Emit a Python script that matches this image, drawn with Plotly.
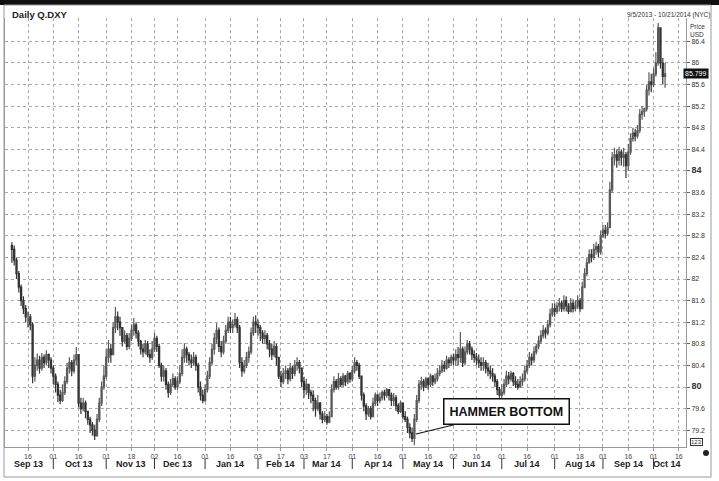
import pandas as pd
import plotly.graph_objects as go

# ---------------- data ----------------
start_date = "2013-09-05"
end_date = "2014-10-21"

close = [
    82.55, 82.35, 82.10, 81.85, 81.60, 81.45, 81.30, 81.30, 81.15, 80.20,
    80.40, 80.50, 80.35, 80.55, 80.45, 80.60, 80.50,
    80.35, 80.20, 80.05, 79.85, 79.75, 79.90,
    80.10, 80.35, 80.45, 80.30, 80.50, 80.60,
    79.70, 79.60, 79.70, 79.55, 79.40, 79.30, 79.20, 79.10,
    79.40, 79.70, 80.00, 80.20, 80.55, 80.70, 80.60,
    81.10, 81.30, 81.20, 81.10,
    80.85, 80.95, 80.75, 80.90, 81.05, 81.15, 81.00, 80.85,
    80.70, 80.65, 80.80, 80.60, 80.55, 80.70, 80.90, 80.75,
    80.40, 80.20, 80.30, 80.05, 79.90, 80.05, 80.15, 80.00, 80.10, 80.25,
    80.55, 80.70, 80.60, 80.50, 80.45, 80.55, 80.40,
    80.00, 79.85, 79.75, 79.95,
    80.20, 80.45, 80.70, 80.90, 81.05, 80.75, 80.65, 80.85,
    81.05, 81.20, 81.10, 81.15, 81.25, 81.10,
    80.45, 80.30, 80.40, 80.55, 80.65,
    81.00, 81.20, 81.15, 81.10, 81.00, 80.90, 80.95, 80.80,
    80.70, 80.60, 80.75, 80.55, 80.20, 80.10, 80.25,
    80.30, 80.15, 80.35, 80.25, 80.40, 80.45, 80.35,
    80.10, 79.95, 80.05, 79.90, 79.85, 79.75, 79.60, 79.70, 79.50, 79.40, 79.45, 79.35, 79.45,
    79.95, 80.10, 80.00, 80.15, 80.05, 80.20, 80.10, 80.25, 80.15, 80.30, 80.45, 80.40, 80.20,
    79.85, 79.65, 79.50, 79.60, 79.45, 79.70, 79.85, 79.75, 79.80,
    79.90, 79.85, 79.95, 79.85, 79.75, 79.80, 79.65, 79.55, 79.70, 79.45, 79.40,
    79.25, 79.15, 79.05, 79.40, 79.75, 80.05,
    80.10, 80.00, 80.15, 80.05, 80.20, 80.10, 80.15, 80.25, 80.30, 80.40, 80.35, 80.50, 80.45, 80.55, 80.50,
    80.60, 80.55, 80.70, 80.45, 80.65, 80.80, 80.70,
    80.60, 80.55, 80.50, 80.45, 80.40, 80.45, 80.35, 80.30, 80.25, 80.20, 80.10, 79.95, 79.85, 79.90,
    80.05, 80.20, 80.15, 80.25, 80.10, 80.05, 80.00, 80.10, 80.15,
    80.30, 80.40, 80.55, 80.50, 80.65, 80.75, 80.85, 80.95, 81.05, 81.00, 81.15, 81.35, 81.45, 81.40, 81.50,
    81.55, 81.45, 81.60, 81.50, 81.40, 81.55, 81.45, 81.50, 81.60, 81.45,
    81.85, 82.10, 82.30, 82.45, 82.40, 82.55, 82.60, 82.50, 82.80, 82.90, 82.85, 82.95, 83.65,
    84.25, 84.30, 84.20, 84.35, 84.25, 84.30, 84.10, 84.35, 84.60, 84.70, 84.65, 84.75,
    85.05, 85.10, 85.15, 85.50, 85.65, 85.60, 85.80, 86.00, 86.65, 86.00, 85.75, 85.80,
]

high = [
    82.68, 82.62, 82.40, 82.15, 81.90, 81.68, 81.52, 81.40, 81.35, 81.20,
    80.55, 80.62, 80.58, 80.63, 80.60, 80.68, 80.62,
    80.55, 80.40, 80.25, 80.10, 79.95, 80.05,
    80.20, 80.45, 80.55, 80.50, 80.60, 80.74,
    80.60, 79.80, 79.80, 79.75, 79.55, 79.45, 79.35, 79.30,
    79.50, 79.80, 80.10, 80.40, 80.70, 80.87, 80.80,
    81.20, 81.48, 81.40, 81.30,
    81.10, 81.05, 81.00, 81.00, 81.15, 81.28, 81.20, 81.05,
    80.87, 80.80, 80.87, 80.85, 80.70, 80.85, 81.00, 80.95,
    80.80, 80.45, 80.40, 80.35, 80.10, 80.15, 80.25, 80.20, 80.20, 80.40,
    80.70, 80.81, 80.75, 80.65, 80.60, 80.65, 80.60,
    80.45, 80.10, 79.95, 80.05,
    80.30, 80.55, 80.80, 81.00, 81.18, 81.10, 80.85, 80.95,
    81.15, 81.30, 81.30, 81.25, 81.37, 81.30,
    81.15, 80.55, 80.50, 80.65, 80.75,
    81.10, 81.30, 81.33, 81.25, 81.15, 81.05, 81.05, 81.00,
    80.87, 80.80, 80.85, 80.80, 80.55, 80.30, 80.35,
    80.40, 80.35, 80.45, 80.40, 80.50, 80.55, 80.50,
    80.35, 80.19, 80.15, 80.05, 79.95, 79.94, 79.80, 79.85, 79.72, 79.55, 79.55, 79.50, 79.55,
    80.05, 80.20, 80.15, 80.26, 80.20, 80.26, 80.22, 80.30, 80.28, 80.40, 80.55, 80.50, 80.45,
    80.20, 79.90, 79.70, 79.65, 79.65, 79.80, 79.90, 79.88, 79.90,
    79.94, 79.95, 79.98, 79.95, 79.90, 79.89, 79.85, 79.70, 79.75, 79.70, 79.55,
    79.45, 79.33, 79.25, 79.50, 79.85, 80.13,
    80.19, 80.15, 80.19, 80.18, 80.25, 80.22, 80.25, 80.35, 80.40, 80.50, 80.48, 80.58, 80.55, 80.60, 80.62,
    80.70, 80.74, 81.02, 80.75, 80.75, 80.87, 80.85,
    80.75, 80.68, 80.63, 80.60, 80.55, 80.55, 80.50, 80.45, 80.40, 80.35, 80.25, 80.15, 80.00, 80.05,
    80.15, 80.30, 80.28, 80.30, 80.28, 80.20, 80.15, 80.20, 80.25,
    80.40, 80.50, 80.65, 80.62, 80.75, 80.80, 80.95, 81.05, 81.15, 81.10, 81.24, 81.45, 81.55, 81.55, 81.57,
    81.65, 81.60, 81.70, 81.68, 81.55, 81.65, 81.62, 81.60, 81.70, 81.65,
    81.95, 82.20, 82.40, 82.55, 82.55, 82.65, 82.69, 82.65, 82.90, 83.00, 83.00, 83.05, 83.80,
    84.35, 84.43, 84.40, 84.45, 84.40, 84.43, 84.35, 84.50, 84.70, 84.80, 84.78, 84.85,
    85.15, 85.20, 85.17, 85.60, 85.83, 85.80, 85.90, 86.20, 86.74, 86.60, 86.09, 86.00,
]

low = [
    82.30, 82.25, 82.00, 81.75, 81.50, 81.35, 81.20, 81.10, 81.05, 80.07,
    80.10, 80.30, 80.25, 80.30, 80.35, 80.40, 80.35,
    80.25, 80.05, 79.90, 79.72, 79.68, 79.72,
    79.85, 80.05, 80.25, 80.20, 80.25, 80.40,
    79.62, 79.50, 79.55, 79.42, 79.30, 79.15, 79.10, 79.02,
    79.08, 79.35, 79.65, 79.95, 80.15, 80.45, 80.45,
    80.60, 81.00, 81.05, 80.95,
    80.75, 80.80, 80.68, 80.70, 80.85, 80.95, 80.90, 80.75,
    80.60, 80.55, 80.60, 80.55, 80.45, 80.50, 80.65, 80.65,
    80.35, 80.10, 80.10, 79.95, 79.80, 79.85, 80.00, 79.95, 79.95, 80.05,
    80.20, 80.45, 80.45, 80.40, 80.35, 80.40, 80.30,
    79.90, 79.75, 79.70, 79.72,
    79.90, 80.15, 80.40, 80.60, 80.80, 80.65, 80.55, 80.60,
    80.80, 81.00, 81.00, 81.00, 81.10, 81.00,
    80.35, 80.19, 80.25, 80.35, 80.45,
    80.60, 80.95, 81.00, 80.95, 80.85, 80.80, 80.80, 80.70,
    80.55, 80.50, 80.55, 80.40, 80.15, 80.00, 80.05,
    80.15, 80.05, 80.10, 80.15, 80.20, 80.30, 80.25,
    80.00, 79.80, 79.85, 79.78, 79.70, 79.55, 79.45, 79.55, 79.40, 79.33, 79.35, 79.30, 79.33,
    79.45, 79.90, 79.95, 79.95, 80.00, 80.00, 80.02, 80.05, 80.08, 80.10, 80.25, 80.30, 80.15,
    79.75, 79.55, 79.39, 79.45, 79.40, 79.45, 79.65, 79.65, 79.70,
    79.75, 79.75, 79.80, 79.75, 79.65, 79.65, 79.55, 79.50, 79.52, 79.40, 79.35,
    79.15, 79.05, 78.98, 78.92, 79.35, 79.70,
    79.95, 79.92, 79.98, 79.95, 80.00, 80.02, 80.05, 80.10, 80.20, 80.26, 80.28, 80.32, 80.35, 80.40, 80.40,
    80.40, 80.40, 80.45, 80.37, 80.40, 80.60, 80.60,
    80.50, 80.45, 80.40, 80.35, 80.30, 80.30, 80.25, 80.20, 80.15, 80.10, 80.00, 79.85, 79.80, 79.80,
    79.85, 80.00, 80.05, 80.10, 80.02, 79.98, 79.95, 79.98, 80.02,
    80.10, 80.25, 80.35, 80.40, 80.45, 80.60, 80.70, 80.80, 80.90, 80.90, 80.96, 81.10, 81.30, 81.30, 81.35,
    81.40, 81.39, 81.40, 81.40, 81.35, 81.38, 81.38, 81.40, 81.45, 81.39,
    81.45, 81.83, 82.05, 82.30, 82.31, 82.35, 82.45, 82.40, 82.45, 82.76, 82.75, 82.80, 82.95,
    83.60, 84.10, 84.06, 84.10, 84.10, 84.08, 83.87, 84.00, 84.30, 84.54, 84.55, 84.60,
    84.70, 84.95, 85.00, 85.10, 85.40, 85.46, 85.55, 85.75, 85.95, 85.90, 85.60, 85.54,
]

first_open = 82.62
last_price = "85.799"

tick_dates = ["2013-09-16", "2013-10-01", "2013-10-16", "2013-11-01", "2013-11-18",
              "2013-12-02", "2013-12-16", "2014-01-01", "2014-01-16", "2014-02-03",
              "2014-02-17", "2014-03-03", "2014-03-17", "2014-04-01", "2014-04-16",
              "2014-05-01", "2014-05-16", "2014-06-02", "2014-06-16", "2014-07-01",
              "2014-07-16", "2014-08-01", "2014-08-18", "2014-09-01", "2014-09-16",
              "2014-10-01", "2014-10-16"]
tick_text = ["16", "01", "16", "01", "18", "02", "16", "01", "16", "03", "17", "03", "17",
             "01", "16", "01", "16", "02", "16", "01", "16", "01", "18", "01", "16", "01", "16"]

month_labels = ["Sep 13", "Oct 13", "Nov 13", "Dec 13", "Jan 14", "Feb 14", "Mar 14",
                "Apr 14", "May 14", "Jun 14", "Jul 14", "Aug 14", "Sep 14", "Oct 14"]
month_label_dates = ["2013-09-16", "2013-10-16", "2013-11-18", "2013-12-16", "2014-01-16",
                     "2014-02-17", "2014-03-17", "2014-04-16", "2014-05-16", "2014-06-16",
                     "2014-07-16", "2014-08-18", "2014-09-16", "2014-10-09"]
month_sep_dates = ["2013-10-01", "2013-11-01", "2013-12-02", "2014-01-01", "2014-02-03",
                   "2014-03-03", "2014-04-01", "2014-05-01", "2014-06-02", "2014-07-01",
                   "2014-08-01", "2014-09-01", "2014-10-01"]

price_ticks = [79.2, 79.6, 80, 80.4, 80.8, 81.2, 81.6, 82, 82.4, 82.8, 83.2, 83.6,
               84, 84.4, 84.8, 85.2, 85.6, 86, 86.4]
bold_ticks = [80, 84]

annot_date = "2014-05-09"
annot_price = 79.13
annot_text = "HAMMER BOTTOM"

# ---------------- derived ----------------
cal = pd.bdate_range(start_date, end_date)
pos = {d.strftime("%Y-%m-%d"): i for i, d in enumerate(cal)}
x = list(range(len(close)))
opn = [first_open] + close[:-1]
hi = [max(h, o, c) for h, o, c in zip(high, opn, close)]
lo = [min(l, o, c) for l, o, c in zip(low, opn, close)]

W, H = 719, 481
L_PX, R_PX, T_PX, B_PX = 5, 686, 18, 447
pw, ph = R_PX - L_PX, B_PX - T_PX

def px_x(p):
    return (p - L_PX) / pw

def px_y(p):
    return (B_PX - p) / ph

FONT = "Arial, Liberation Sans, sans-serif"

fig = go.Figure()
fig.add_trace(go.Candlestick(
    x=x, open=opn, high=hi, low=lo, close=close,
    increasing=dict(line=dict(color="#5a5a5a", width=1.2), fillcolor="#b4b4b4"),
    decreasing=dict(line=dict(color="#333333", width=1.2), fillcolor="#666666"),
    whiskerwidth=0, showlegend=False, hoverinfo="skip",
))

y_text = []
for v in price_ticks:
    s = ("%.1f" % v).rstrip("0").rstrip(".")
    if v in bold_ticks:
        s = "<b><span style='font-size:9px'>%s</span></b>" % s
    y_text.append(s)

fig.update_layout(
    width=W, height=H,
    margin=dict(l=L_PX, r=W - R_PX, t=T_PX, b=H - B_PX),
    paper_bgcolor="white", plot_bgcolor="white",
    font=dict(family=FONT, color="#333"),
    xaxis=dict(
        range=[-3.0, 293.1], rangeslider=dict(visible=False),
        tickvals=[pos[d] for d in tick_dates], ticktext=tick_text,
        tickfont=dict(size=7, color="#444"),
        ticks="outside", ticklen=3, tickcolor="#999",
        showgrid=True, gridcolor="#a8a8a8", griddash="dot", gridwidth=1,
        showline=True, linecolor="#999", linewidth=1,
        zeroline=False, fixedrange=True,
    ),
    yaxis=dict(
        side="right", range=[78.889, 86.833],
        tickvals=price_ticks, ticktext=y_text,
        tickfont=dict(size=7, color="#333"),
        ticks="outside", ticklen=3, tickcolor="#666",
        showgrid=True, gridcolor="#a8a8a8", griddash="dot", gridwidth=1,
        showline=True, linecolor="#999", linewidth=1, mirror=True,
        zeroline=False, fixedrange=True,
    ),
)

shapes = []
# top black band and outer frame
shapes.append(dict(type="rect", xref="paper", yref="paper",
                   x0=px_x(0), x1=px_x(W), y0=px_y(5), y1=px_y(0),
                   fillcolor="#111", line=dict(width=0), layer="above"))
shapes.append(dict(type="rect", xref="paper", yref="paper",
                   x0=px_x(4), x1=px_x(711), y0=px_y(477), y1=px_y(5),
                   fillcolor="rgba(0,0,0,0)", line=dict(color="#9a9a9a", width=1), layer="above"))
# month separators
for d in month_sep_dates:
    shapes.append(dict(type="line", xref="x", yref="paper",
                       x0=pos[d], x1=pos[d], y0=px_y(458), y1=px_y(469),
                       line=dict(color="#333", width=1)))
# black dot bottom right
shapes.append(dict(type="circle", xref="paper", yref="paper",
                   x0=px_x(703), x1=px_x(709), y0=px_y(456), y1=px_y(450),
                   fillcolor="#222", line=dict(width=0)))
fig.update_layout(shapes=shapes)

ann = []
for lab, d in zip(month_labels, month_label_dates):
    ann.append(dict(x=pos[d], y=px_y(463.5), xref="x", yref="paper", text="<b>%s</b>" % lab,
                    showarrow=False, font=dict(size=9, color="#222", family=FONT),
                    xanchor="center", yanchor="middle"))
ann.append(dict(x=px_x(10), y=px_y(15), xref="paper", yref="paper", text="<b>Daily Q.DXY</b>",
                showarrow=False, font=dict(size=9.5, color="#222", family=FONT),
                xanchor="left", yanchor="middle"))
ann.append(dict(x=px_x(712), y=px_y(15), xref="paper", yref="paper",
                text="9/5/2013 - 10/21/2014 (NYC)", showarrow=False,
                font=dict(size=6.5, color="#333", family=FONT), xanchor="right", yanchor="middle"))
ann.append(dict(x=px_x(688), y=px_y(30), xref="paper", yref="paper",
                text="Price<br>USD", showarrow=False, align="left",
                font=dict(size=6.5, color="#333", family=FONT), xanchor="left", yanchor="middle"))
ann.append(dict(x=px_x(683), y=float(last_price), xref="paper", yref="y",
                text=last_price, showarrow=False, bgcolor="#111", borderpad=1,
                font=dict(size=7, color="white", family=FONT), xanchor="left", yanchor="middle"))
ann.append(dict(x=px_x(690), y=px_y(442), xref="paper", yref="paper",
                text="123", showarrow=False, bordercolor="#333", borderwidth=1, borderpad=0,
                font=dict(size=6, color="#333", family=FONT), xanchor="left", yanchor="middle"))
ann.append(dict(x=pos[annot_date] - 0.3, y=annot_price, xref="x", yref="y",
                text="<b>%s</b>" % annot_text, showarrow=True, arrowhead=0, arrowwidth=1.2,
                arrowcolor="#111", ax=91, ay=-22, bgcolor="white", bordercolor="#111",
                borderwidth=1.5, borderpad=5,
                font=dict(size=12.5, color="#111", family=FONT)))
fig.update_layout(annotations=ann)

fig.write_html("out.html")
